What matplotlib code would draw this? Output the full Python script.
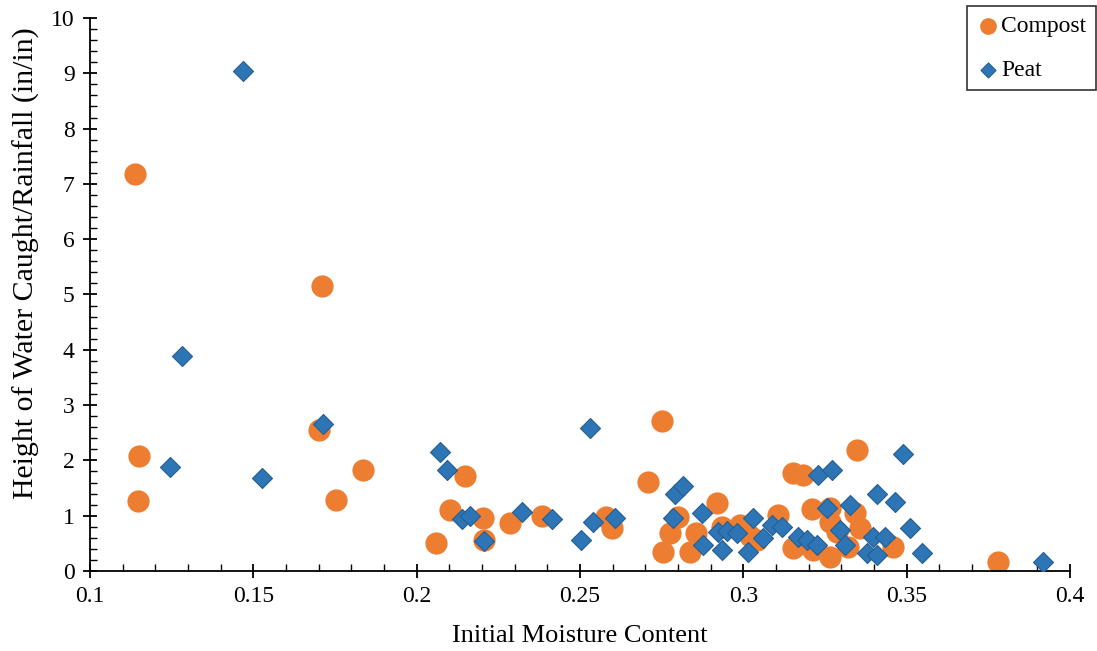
import numpy as np
import matplotlib.pyplot as plt
from matplotlib.ticker import MultipleLocator

plt.rcParams['font.family'] = ['Liberation Serif', 'DejaVu Serif']

# Compost: initial moisture content vs. height of water caught / rainfall
compost_x = [0.1138, 0.1150, 0.1147, 0.1710, 0.1701, 0.1753, 0.1836, 0.2059,
             0.2102, 0.2148, 0.2203, 0.2206, 0.2286, 0.2384, 0.2580, 0.2598,
             0.2708, 0.2751, 0.2800, 0.2776, 0.2754, 0.2837, 0.2855, 0.2919,
             0.2935, 0.2990, 0.3042, 0.3020, 0.3106, 0.3152, 0.3183, 0.3152,
             0.3164, 0.3210, 0.3265, 0.3348, 0.3342, 0.3265, 0.3287, 0.3357,
             0.3265, 0.3213, 0.3320, 0.3458, 0.3780]
compost_y = [7.18, 2.08, 1.27, 5.15, 2.55, 1.28, 1.83, 0.51,
             1.10, 1.72, 0.96, 0.56, 0.87, 1.00, 0.98, 0.78,
             1.61, 2.71, 0.98, 0.69, 0.34, 0.34, 0.69, 1.23,
             0.80, 0.83, 0.56, 0.63, 1.01, 1.77, 1.74, 0.42,
             0.47, 1.12, 1.14, 2.19, 1.05, 0.89, 0.70, 0.78,
             0.25, 0.38, 0.43, 0.43, 0.16]

# Peat
peat_x = [0.1468, 0.1282, 0.1245, 0.1527, 0.1713, 0.2071, 0.2093, 0.2139,
          0.2163, 0.2206, 0.2322, 0.2414, 0.2503, 0.2531, 0.2540, 0.2607,
          0.2791, 0.2815, 0.2785, 0.2873, 0.2877, 0.2922, 0.2950, 0.2981,
          0.2935, 0.3014, 0.3030, 0.3088, 0.3060, 0.3118, 0.3167, 0.3195,
          0.3226, 0.3229, 0.3271, 0.3256, 0.3327, 0.3296, 0.3311, 0.3409,
          0.3464, 0.3489, 0.3510, 0.3547, 0.3397, 0.3434, 0.3379, 0.3409,
          0.3917]
peat_y = [9.04, 3.89, 1.88, 1.68, 2.66, 2.15, 1.83, 0.94,
          0.99, 0.54, 1.07, 0.94, 0.56, 2.59, 0.89, 0.96,
          1.39, 1.54, 0.96, 1.05, 0.47, 0.71, 0.72, 0.69,
          0.38, 0.34, 0.96, 0.83, 0.60, 0.80, 0.61, 0.56,
          0.47, 1.74, 1.83, 1.14, 1.19, 0.74, 0.47, 1.39,
          1.25, 2.12, 0.78, 0.33, 0.61, 0.61, 0.33, 0.29,
          0.16]

x_ticks = [0.1, 0.15, 0.2, 0.25, 0.3, 0.35, 0.4]
x_labels = ['0.1', '0.15', '0.2', '0.25', '0.3', '0.35', '0.4']

fig = plt.figure(figsize=(10.97, 6.51), dpi=100)
ax = fig.add_axes([0.082, 0.1229, 0.8934, 0.8495])

ax.scatter(compost_x, compost_y, s=256, c='#ED7D31', marker='o',
           linewidths=0, label='Compost', zorder=2)
ax.scatter(peat_x, peat_y, s=104, c='#2E75B6', marker='D',
           edgecolors='#255E91', linewidths=0.8, label='Peat', zorder=3)

ax.set_xlim(0.1, 0.4)
ax.set_ylim(0, 10)
ax.set_xticks(x_ticks)
ax.set_xticklabels(x_labels)
ax.xaxis.set_minor_locator(MultipleLocator(0.01))
ax.yaxis.set_major_locator(MultipleLocator(1))
ax.yaxis.set_minor_locator(MultipleLocator(0.2))

for s in ['top', 'right']:
    ax.spines[s].set_visible(False)
for s in ['left', 'bottom']:
    ax.spines[s].set_linewidth(1.3)

ax.tick_params(which='major', direction='inout', length=10, width=1.3,
               labelsize=17, pad=6)
ax.tick_params(which='minor', direction='in', length=5, width=1.0)

ax.set_xlabel('Initial Moisture Content', fontsize=19, labelpad=13)
ax.set_ylabel('Height of Water Caught/Rainfall (in/in)', fontsize=21.5)
ax.yaxis.set_label_coords(-0.051, 0.557)

leg = fig.legend(loc='upper right', bbox_to_anchor=(1096 / 1097, 1 - 6 / 651),
                 borderaxespad=0, fontsize=17, frameon=True, fancybox=False,
                 edgecolor='black', handletextpad=0.05, borderpad=0.4,
                 labelspacing=0.95, markerscale=0.75, handlelength=1.0)
leg.get_frame().set_linewidth(1.2)

fig.savefig('out.png', dpi=100)
